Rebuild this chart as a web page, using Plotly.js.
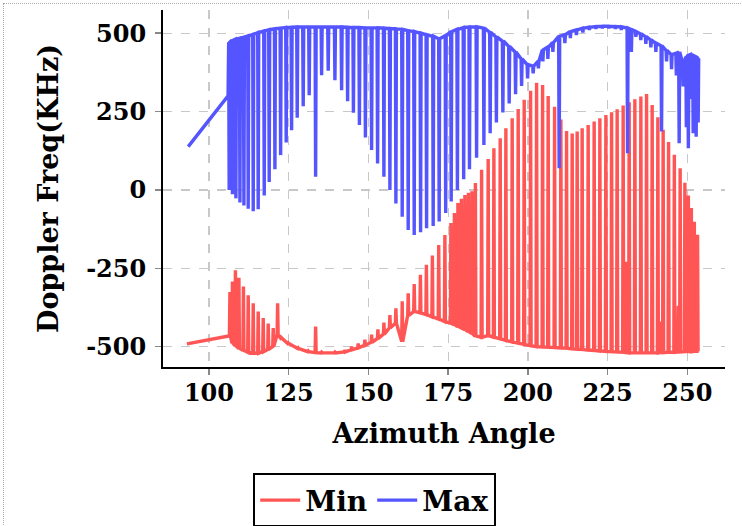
<!DOCTYPE html>
<html><head><meta charset="utf-8">
<script src="https://cdn.plot.ly/plotly-3.0.1.min.js"></script>
<style>
html,body{margin:0;padding:0;background:#fff;overflow:hidden;}
#frame{position:absolute;left:3px;top:3px;width:900px;height:900px;border:1px dotted #aaa;pointer-events:none;}
#chart{position:absolute;left:0;top:0;width:742px;height:526px;}
</style></head><body>
<div id="frame"></div>
<div id="chart"></div>
<script>
// ---- Max (blue) ----
const maxLeadAz = [93.5, 106.0];
const maxLeadHz = [138, 300];
const maxAz = [106.35,107.37,108.46,109.72,110.97,112.32,113.89,115.45,117.34,118.90,120.69,122.48,124.23,125.92,127.68,129.56,131.44,133.45,135.33,137.40,139.50,141.60,143.48,145.30,147.18,149.06,151.00,152.88,154.86,156.74,158.62,160.60,162.48,164.36,166.36,168.24,170.31,172.19,174.23,175.96,177.90,179.87,181.69,183.92,186.21,188.18,190.13,192.16,194.14,196.14,198.03,199.91,201.66,203.29,204.70,206.27,207.84,209.81,211.60,213.32,215.20,217.24,219.28,221.32,223.35,225.39,227.43,229.31,231.25,232.45,233.86,235.42,236.99,238.56,240.13,241.91,243.48,245.05,246.55,247.43,248.68,249.69,250.31,251.10,251.82,252.76,253.39];
const maxTop = [471,477,481,484,487,491,496,502,507,511,514,516,518,519,520,520,520,520,520,520,520,520,519,518,518,517,517,517,516,515,514,512,508,505,500,495,490,482,492,505,512,518,520,520,516,503,488,475,458,440,418,400,395,410,447,455,470,490,495,505,510,516,519,521,522,522,521,520,516,512,505,498,489,479,468,460,445,432,436,440,405,425,430,432,428,425,420];
const maxLow = [0,-14,-27,-40,-50,-60,-68,-62,-18,25,66,111,151,190,230,267,302,42,366,380,350,318,283,246,207,167,127,84,42,0,-43,-86,-128,-144,-135,-122,-115,-101,-74,-37,0,34,66,103,143,181,215,247,276,305,332,356,372,388,410,418,440,69,468,484,494,502,510,514,516,516,514,510,117,440,488,478,466,455,440,186,410,385,365,149,330,200,133,290,181,170,215];

// ---- Min (red) ----
const minLeadAz = [93.1, 106.2];
const minLeadHz = [-491, -466];
const minAz = [106.58,107.37,108.31,109.40,110.82,112.32,113.89,115.45,117.02,118.59,120.16,121.54,122.57,124.86,127.99,131.13,133.45,135.33,139.50,142.63,144.73,146.80,148.90,151.00,152.98,154.86,156.74,158.62,160.60,162.48,164.36,166.30,168.18,170.06,172.04,173.98,175.86,176.96,178.06,179.15,180.25,181.35,182.45,183.54,185.49,187.55,189.34,191.32,193.10,195.08,196.96,198.84,200.85,202.73,204.61,206.36,208.37,210.34,212.13,213.89,215.45,217.02,218.90,220.78,222.57,224.45,226.24,227.99,229.87,230.94,231.76,233.54,235.42,237.21,238.97,240.75,241.69,242.41,244.11,245.92,247.18,247.74,249.22,250.31,251.25,252.19,253.20];
const minPeak = [-326,-292,-256,-280,-308,-336,-362,-388,-409,-426,-441,-362,-470,-488,-504,-514,-436,-518,-518,-510,-500,-490,-478,-462,-445,-423,-399,-378,-355,-330,-300,-271,-239,-209,-176,-144,-106,-74,-42,-28,-16,-9,-4,22,64,99,133,165,197,229,258,288,316,342,335,300,265,225,188,180,186,197,207,218,229,239,248,257,269,-229,280,289,298,306,271,232,-420,192,153,112,-370,69,23,-18,-58,-102,-143];
const minBase = [-466,-489,-497,-505,-512,-518,-521,-521,-516,-509,-500,-462,-472,-490,-506,-516,-519,-520,-520,-517,-510,-504,-496,-486,-474,-460,-440,-425,-484,-400,-388,-392,-398,-405,-412,-420,-425,-430,-436,-440,-446,-452,-458,-466,-470,-465,-470,-475,-480,-485,-489,-493,-497,-500,-501,-502,-503,-504,-505,-507,-508,-509,-511,-512,-514,-515,-516,-517,-518,-519,-520,-520,-520,-520,-520,-520,-519,-519,-518,-518,-517,-517,-516,-516,-516,-515,-515];

// ---- axes ----
const xTickVals = [100,125,150,175,200,225,250];
const xTickText = ['100','125','150','175','200','225','250'];
const yTickVals = [-500,-250,0,250,500];
const yTickText = ['-500','-250','0','250','500'];

const HALF = 0.16; // half width of each narrow stroke, in degrees
function buildSeries(leadAz, leadHz, az, outer, tip) {
  const x = leadAz.slice(), y = leadHz.slice();
  for (let i = 0; i < az.length; i++) {
    x.push(az[i] - HALF, az[i], az[i] + HALF);
    y.push(outer[i], tip[i], outer[i]);
  }
  return {x, y};
}
const red = buildSeries(minLeadAz, minLeadHz, minAz, minBase, minPeak);
const blue = buildSeries(maxLeadAz, maxLeadHz, maxAz, maxTop, maxLow);

const FONT = 'DejaVu Serif, Liberation Serif, serif';
const traces = [
  {x: red.x, y: red.y, name: 'Min', type: 'scatter', mode: 'lines',
   line: {color: '#ff5555', width: 3.4, simplify: false}},
  {x: blue.x, y: blue.y, name: 'Max', type: 'scatter', mode: 'lines',
   line: {color: '#5555ff', width: 3.4, simplify: false}}
];
const axisCommon = {
  showline: true, linecolor: '#000', linewidth: 2, mirror: false,
  showgrid: true, gridcolor: '#c8c8c8', gridwidth: 1.3, griddash: 'dash',
  zeroline: false, ticks: 'outside', ticklen: 6, tickwidth: 1.5, tickcolor: '#888',
  tickfont: {family: FONT, size: 24, color: '#000', weight: 'bold'}
};
const layout = {
  width: 742, height: 526,
  margin: {l: 163, r: 17, t: 10, b: 159},
  paper_bgcolor: 'rgba(0,0,0,0)', plot_bgcolor: 'rgba(0,0,0,0)',
  font: {family: FONT, color: '#000', weight: 'bold'},
  xaxis: Object.assign({}, axisCommon, {
    range: [85.6, 261.8], tickmode: 'array', tickvals: xTickVals, ticktext: xTickText,
    ticklabelstandoff: -3,
    title: {text: 'Azimuth Angle', font: {family: FONT, size: 27, color: '#000', weight: 'bold'}, standoff: 18}
  }),
  yaxis: Object.assign({}, axisCommon, {
    range: [-565, 574], tickmode: 'array', tickvals: yTickVals, ticktext: yTickText,
    ticklabelstandoff: 4,
    title: {text: 'Doppler Freq(KHz)', font: {family: FONT, size: 27, color: '#000', weight: 'bold'}, standoff: 20}
  }),
  showlegend: true,
  legend: {orientation: 'h', xref: 'container', yref: 'container', x: 0.505, xanchor: 'center',
    y: 0.1, yanchor: 'top', bordercolor: '#000', borderwidth: 2, bgcolor: '#fff', itemwidth: 40,
    font: {family: FONT, size: 28, color: '#000', weight: 'bold'}}
};
Plotly.newPlot('chart', traces, layout, {displayModeBar: false, staticPlot: true});
</script></body></html>
